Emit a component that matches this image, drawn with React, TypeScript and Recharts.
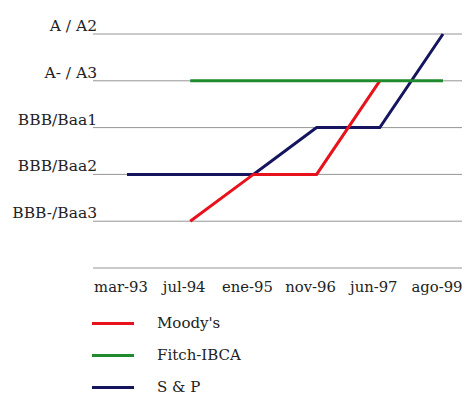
import React from "react";
import { LineChart, Line, XAxis, YAxis, CartesianGrid } from "recharts";

const categories = ["mar-93", "jul-94", "ene-95", "nov-96", "jun-97", "ago-99"];
const ratingLabels = ["", "BBB-/Baa3", "BBB/Baa2", "BBB/Baa1", "A- / A3", "A / A2"];
const moodys = [null, 1, 2, 2, 4, null];
const fitch = [null, 4, 4, 4, 4, 4];
const sp = [2, 2, 2, 3, 3, 5];

const seriesInfo = [
  { key: "moodys", name: "Moody's", color: "#e8121c" },
  { key: "fitch", name: "Fitch-IBCA", color: "#1f8a2e" },
  { key: "sp", name: "S & P", color: "#15155f" },
];

const data = categories.map((c, i) => ({
  cat: c,
  moodys: moodys[i],
  fitch: fitch[i],
  sp: sp[i],
}));

const FONT = "'DejaVu Serif', serif";

const YTick = (props: any) => {
  const { x, y, payload } = props;
  const label = ratingLabels[payload.value] ?? "";
  return (
    <text x={x + 12} y={y - 7} textAnchor="end" dominantBaseline="middle" fill="#222" fontFamily={FONT} fontSize={15.5}>
      {label}
    </text>
  );
};

const XTick = (props: any) => {
  const { x, y, payload } = props;
  return (
    <text x={x - 6} y={y + 12} textAnchor="middle" dominantBaseline="middle" fill="#222" fontFamily={FONT} fontSize={14.8}>
      {payload.value}
    </text>
  );
};

export default function App() {
  return (
    <div style={{ position: "absolute", left: 0, top: 0, width: 469, height: 402, background: "#fff" }}>
      <LineChart width={469} height={402} data={data} margin={{ top: 34, right: 7, bottom: 104, left: 0 }}>
        <CartesianGrid vertical={false} stroke="#959595" strokeWidth={1} />
        <XAxis
          dataKey="cat"
          type="category"
          axisLine={false}
          tickLine={false}
          padding={{ left: 34, right: 19 }}
          tick={<XTick />}
          interval={0}
          height={30}
        />
        <YAxis
          type="number"
          domain={[0, 5]}
          ticks={[0, 1, 2, 3, 4, 5]}
          interval={0}
          width={93}
          axisLine={false}
          tickLine={false}
          tick={<YTick />}
        />
        <Line dataKey="sp" name="S & P" stroke="#15155f" strokeWidth={3} dot={false} isAnimationActive={false} />
        <Line dataKey="moodys" name="Moody's" stroke="#e8121c" strokeWidth={3} dot={false} isAnimationActive={false} />
        <Line dataKey="fitch" name="Fitch-IBCA" stroke="#1f8a2e" strokeWidth={3} dot={false} isAnimationActive={false} />
      </LineChart>
      <div style={{ position: "absolute", left: 92, top: 307, fontFamily: FONT, fontSize: 15, color: "#222" }}>
        {seriesInfo.map((s) => (
          <div key={s.key} style={{ display: "flex", alignItems: "center", height: 32 }}>
            <div style={{ width: 42, height: 3, background: s.color, marginRight: 23 }} />
            <span>{s.name}</span>
          </div>
        ))}
      </div>
    </div>
  );
}
